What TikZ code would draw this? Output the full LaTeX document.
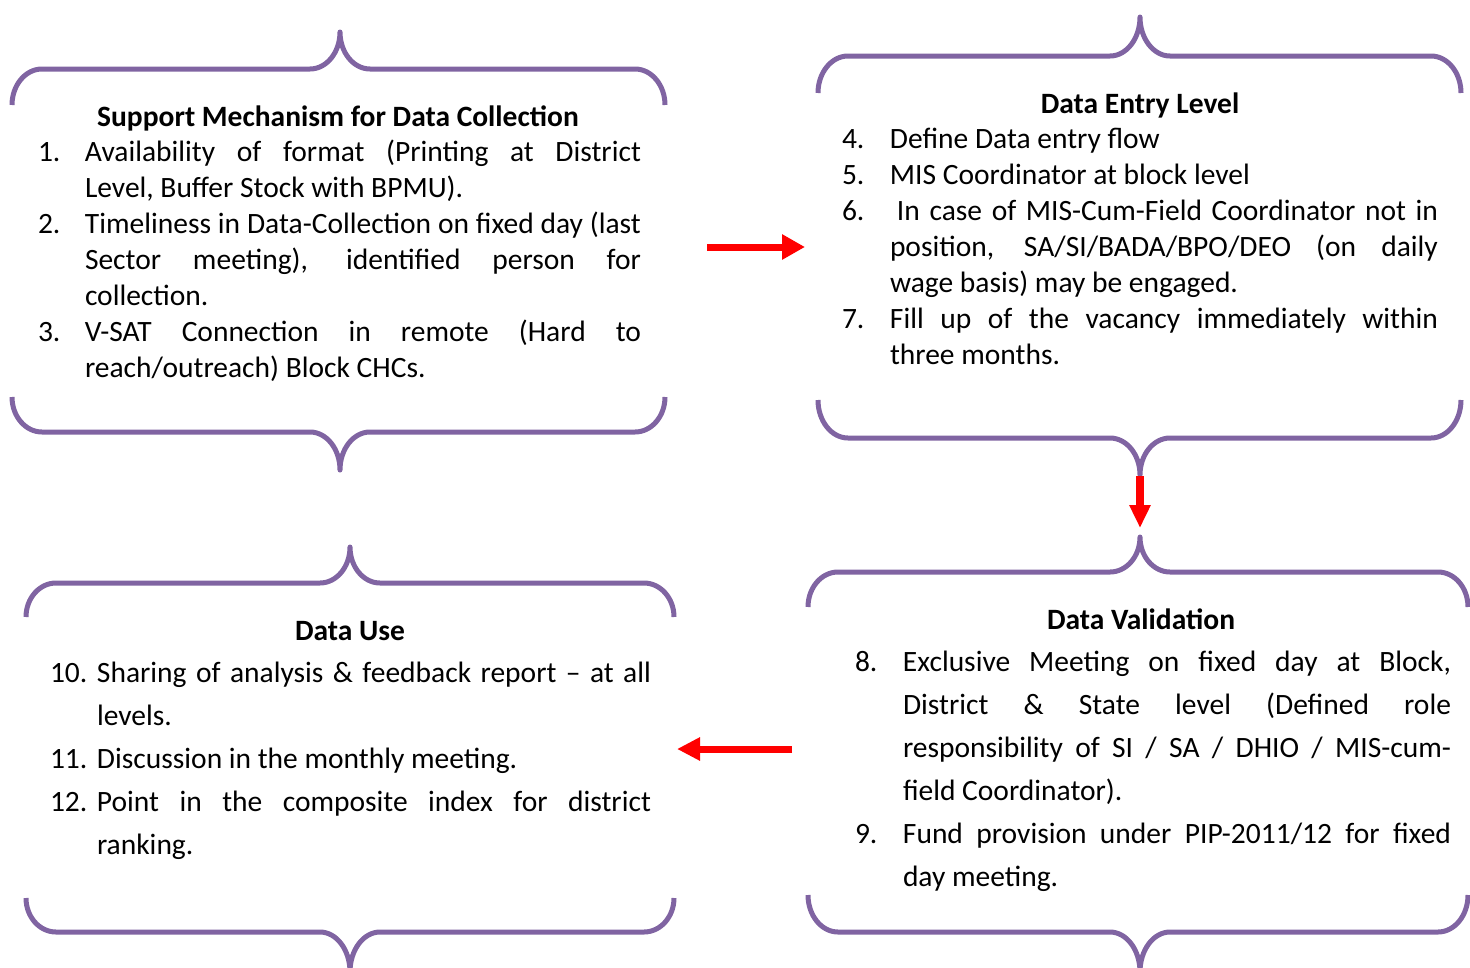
\documentclass[tikz,border=0pt]{standalone}
\usepackage{fontspec}
\setmainfont{Carlito}
\usetikzlibrary{arrows.meta}
\definecolor{bracepurple}{HTML}{8064A2}
\definecolor{arrowred}{HTML}{FF0000}
\tikzset{
  bracestyle/.style={draw=bracepurple, line width=5pt, line join=round},
  listtext/.style={inner sep=0pt, outer sep=0pt, align=left, anchor=north west, font=\fontsize{29.5}{36}\selectfont},
  listwide/.style={listtext, font=\fontsize{29.5}{43}\selectfont},
  titletext/.style={inner sep=0pt, anchor=base, font=\fontsize{29.5}{36}\selectfont\bfseries},
  redarrow/.style={draw=arrowred, line width=7pt, -{Triangle[length=23pt,width=24pt]}}
}
% xl, xc, xr, yend, yh, ytip
\newcommand{\mybrace}[6]{%
  \draw[bracestyle] (#1,#4) .. controls (#1,{#4+0.552*(#5-#4)}) and ({#1+30-0.552*30},#5) .. ({#1+30},#5)
    -- ({#2-30},#5) .. controls ({#2-30+0.552*30},#5) and (#2,{#6+0.552*(#5-#6)}) .. (#2,#6)
    .. controls (#2,{#6+0.552*(#5-#6)}) and ({#2+30-0.552*30},#5) .. ({#2+30},#5)
    -- ({#3-30},#5) .. controls ({#3-30+0.552*30},#5) and (#3,{#4+0.552*(#5-#4)}) .. (#3,#4);}
\begin{document}
\begin{tikzpicture}[x=1pt, y=-1pt]
\useasboundingbox (0,0) rectangle (1470,967);
% braces
\mybrace{12}{340}{665}{105}{69}{32}
\mybrace{12}{340}{665}{397}{432}{470}
\mybrace{818}{1140}{1461}{93}{56}{17}
\mybrace{818}{1140}{1461}{400}{438}{475}
\mybrace{808}{1140}{1468}{607}{572}{537}
\mybrace{808}{1140}{1468}{895}{932}{972}
\mybrace{26}{350}{674}{617}{583}{547}
\mybrace{26}{350}{674}{898}{932}{972}
% titles
\node[titletext] (t1) at (338,126) {Support Mechanism for Data Collection};
\node[titletext] (t2) at (1140,113) {Data Entry Level};
\node[titletext] (t3) at (1141,629) {Data Validation};
\node[titletext] (t4) at (350,640) {Data Use};
% lists
\node[listtext] (l1) at (38,136) {\rule{0pt}{25pt}\makebox[47pt][l]{1.}\makebox[556pt][s]{Availability of format (Printing at District}\\
\hspace*{47pt}Level, Buffer Stock with BPMU).\\
\makebox[47pt][l]{2.}\makebox[556pt][s]{Timeliness in Data-Collection on fixed day (last}\\
\hspace*{47pt}\makebox[556pt][s]{Sector meeting), identified person for}\\
\hspace*{47pt}collection.\\
\makebox[47pt][l]{3.}\makebox[556pt][s]{V-SAT Connection in remote (Hard to}\\
\hspace*{47pt}reach/outreach) Block CHCs.};
\node[listtext] (l2) at (842,123) {\rule{0pt}{25pt}\makebox[48pt][l]{4.}Define Data entry flow\\
\makebox[48pt][l]{5.}MIS Coordinator at block level\\
\makebox[48pt][l]{6.}\hspace*{7pt}\makebox[541pt][s]{In case of MIS-Cum-Field Coordinator not in}\\
\hspace*{48pt}\makebox[548pt][s]{position, SA/SI/BADA/BPO/DEO (on daily}\\
\hspace*{48pt}wage basis) may be engaged.\\
\makebox[48pt][l]{7.}\makebox[548pt][s]{Fill up of the vacancy immediately within}\\
\hspace*{48pt}three months.};
\node[listwide] (l3) at (855,646) {\rule{0pt}{25pt}\makebox[48pt][l]{8.}\makebox[548pt][s]{Exclusive Meeting on fixed day at Block,}\\
\hspace*{48pt}\makebox[548pt][s]{District \& State level (Defined role}\\
\hspace*{48pt}\makebox[548pt][s]{responsibility of SI / SA / DHIO / MIS-cum-}\\
\hspace*{48pt}field Coordinator).\\
\makebox[48pt][l]{9.}\makebox[548pt][s]{Fund provision under PIP-2011/12 for fixed}\\
\hspace*{48pt}day meeting.};
\node[listwide] (l4) at (50,657) {\rule{0pt}{25pt}\makebox[47pt][l]{10.}\makebox[554pt][s]{Sharing of analysis \& feedback report – at all}\\
\hspace*{47pt}levels.\\
\makebox[47pt][l]{11.}Discussion in the monthly meeting.\\
\makebox[47pt][l]{12.}\makebox[554pt][s]{Point in the composite index for district}\\
\hspace*{47pt}ranking.};
% arrows
\coordinate (a1s) at (707,247);
\coordinate (a1e) at (805,247);
\coordinate (a2s) at (1140,476);
\coordinate (a2e) at (1140,528);
\coordinate (a3s) at (792,749);
\coordinate (a3e) at (677,749);
\draw[redarrow] (a1s) -- (a1e);
\draw[redarrow, line width=8pt, -{Triangle[length=23pt,width=20pt]}] (a2s) -- (a2e);
\draw[redarrow, -{Triangle[length=23pt,width=22pt]}] (a3s) -- (a3e);
\end{tikzpicture}
\end{document}
